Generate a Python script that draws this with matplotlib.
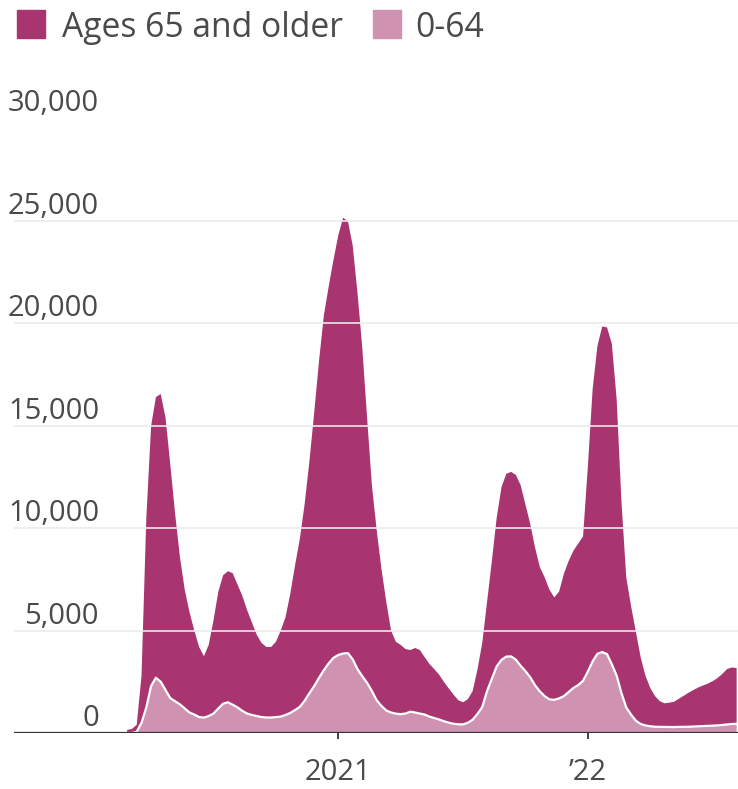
import matplotlib
matplotlib.use("Agg")
import matplotlib.pyplot as plt
import pandas as pd
from matplotlib.patches import Rectangle

# ---- data (weekly deaths) ----
dates = pd.date_range("2020-02-29", periods=128, freq="7D")

ages_0_64 = [
    0, 0, 60, 500, 1250, 2300, 2700, 2500, 2100, 1700,
    1550, 1400, 1200, 1000, 900, 780, 750, 830, 950, 1200,
    1430, 1500, 1380, 1250, 1080, 950, 880, 830, 780, 755,
    755, 775, 800, 880, 980, 1120, 1280, 1580, 1950, 2300,
    2700, 3070, 3400, 3670, 3810, 3880, 3900, 3600, 3120, 2770,
    2450, 2050, 1600, 1320, 1100, 1000, 945, 920, 950, 1040,
    1000, 950, 900, 800, 730, 660, 575, 505, 450, 425,
    420, 500, 650, 930, 1270, 2050, 2650, 3250, 3570, 3730,
    3740, 3580, 3280, 3020, 2720, 2330, 2030, 1800, 1640, 1620,
    1690, 1800, 2000, 2200, 2340, 2550, 3000, 3500, 3870, 3950,
    3850, 3350, 2800, 1950, 1250, 900, 600, 440, 370, 330,
    305, 300, 290, 290, 290, 300, 300, 305, 315, 325,
    335, 345, 355, 370, 390, 415, 440, 450,
]

ages_65_plus = [
    150, 200, 340, 2300, 9250, 12700, 13700, 14050, 13300, 11400,
    9150, 7200, 5800, 4900, 4100, 3420, 3000, 3470, 4550, 5700,
    6270, 6400, 6420, 6000, 5620, 5050, 4520, 3970, 3620, 3445,
    3445, 3675, 4200, 4770, 5820, 7080, 8220, 9620, 11350, 13400,
    15500, 17330, 18400, 19430, 20490, 21270, 21100, 20200, 18380, 16030,
    12950, 10050, 8300, 6680, 5300, 4000, 3505, 3380, 3150, 3010,
    3150, 3100, 2800, 2570, 2390, 2190, 1925, 1675, 1430, 1175,
    1080, 1150, 1400, 2170, 3130, 4350, 5750, 7250, 8430, 8920,
    9010, 9020, 8820, 8130, 7480, 6720, 6070, 5800, 5360, 5000,
    5210, 5970, 6400, 6700, 6910, 7050, 10000, 13300, 15030, 15900,
    15950, 15650, 13500, 9350, 6350, 5300, 4350, 3260, 2430, 1870,
    1495, 1250, 1160, 1190, 1240, 1380, 1520, 1665, 1785, 1895,
    1985, 2065, 2175, 2310, 2490, 2705, 2760, 2720,
]

series_names = ["Ages 65 and older", "0-64"]
yticks = [0, 5000, 10000, 15000, 20000, 25000, 30000]
ytick_labels = ["0", "5,000", "10,000", "15,000", "20,000", "25,000", "30,000"]
xtick_dates = ["2021-01-01", "2022-01-01"]
xtick_labels = ["2021", "\u201922"]

# ---- style ----
DARK = "#A93570"
LIGHT = "#D092B1"
TEXT = "#4a4a4a"
TICK_FONT = ["Open Sans", "DejaVu Sans"]
LEG_FONT = ["Open Sans", "DejaVu Sans"]

W, H = 738, 789
fig = plt.figure(figsize=(W / 100, H / 100), dpi=100)
fig.patch.set_facecolor("white")

ax = fig.add_axes([14 / W, (H - 733) / H, 724 / W, (733 - 118.5) / H])
ax.stackplot(dates, ages_0_64, ages_65_plus, colors=[LIGHT, DARK],
             linewidth=0, zorder=1)
ax.plot(dates, ages_0_64, color="white", lw=1.6, zorder=2)

ax.set_ylim(0, 30000)
ax.set_xlim(pd.Timestamp("2019-09-17"), pd.Timestamp("2022-08-08"))

for v in yticks[1:]:
    ax.axhline(v, color=(0.92, 0.92, 0.92), alpha=0.85, lw=1.4, zorder=3)
ax.axhline(0, color="#333333", lw=1.6, zorder=4)

ytrans = ax.get_yaxis_transform()
for v, lbl in zip(yticks, ytick_labels):
    ax.annotate(lbl, xy=((99 - 14) / 724, v), xycoords=ytrans,
                xytext=(0, 7), textcoords="offset pixels",
                ha="right", va="baseline", fontsize=21,
                color=TEXT, family=TICK_FONT)

ax.set_yticks([])
ax.set_xticks(pd.to_datetime(xtick_dates))
ax.set_xticklabels(xtick_labels, family=TICK_FONT, fontsize=21, color=TEXT)
ax.tick_params(axis="x", length=4, width=1.3, color="#333333", pad=14)
for s in ax.spines.values():
    s.set_visible(False)

# ---- legend ----
sq = 28
fig.patches.append(Rectangle((17 / W, (H - 38) / H), sq / W, sq / H,
                             transform=fig.transFigure, color=DARK))
fig.text(62 / W, (H - 37) / H, series_names[0], fontsize=24.2,
         color=TEXT, family=LEG_FONT, ha="left", va="baseline")
fig.patches.append(Rectangle((373 / W, (H - 38) / H), sq / W, sq / H,
                             transform=fig.transFigure, color=LIGHT))
fig.text(415 / W, (H - 37) / H, series_names[1], fontsize=24.2,
         color=TEXT, family=LEG_FONT, ha="left", va="baseline")

fig.savefig("out.png", dpi=100, facecolor="white")
